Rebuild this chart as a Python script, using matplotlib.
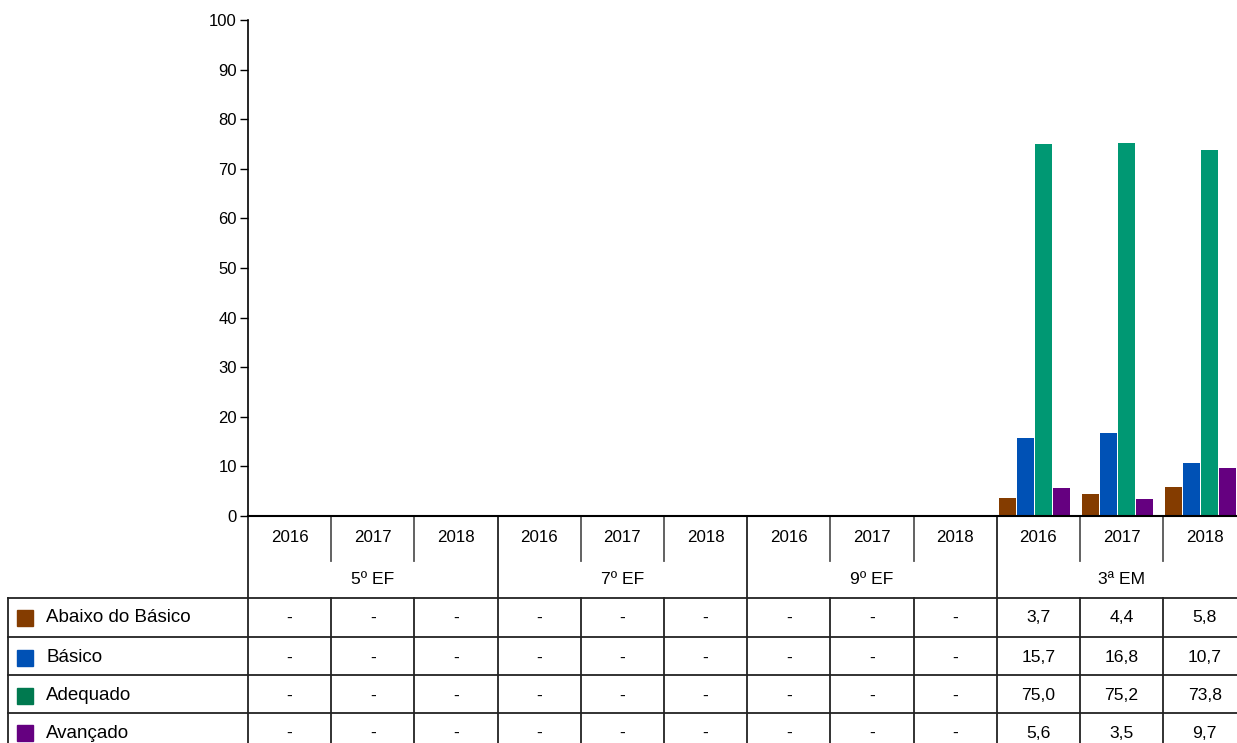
import numpy as np
import matplotlib
matplotlib.use("Agg")
import matplotlib.pyplot as plt

plt.rcParams['font.family'] = ['Liberation Sans', 'DejaVu Sans']

# data
grades = ['5º EF', '7º EF', '9º EF', '3ª EM']
years = ['2016', '2017', '2018']
levels = ['Abaixo do Básico', 'Básico', 'Adequado', 'Avançado']
abaixo = [None] * 9 + [3.7, 4.4, 5.8]
basico = [None] * 9 + [15.7, 16.8, 10.7]
adequado = [None] * 9 + [75.0, 75.2, 73.8]
avancado = [None] * 9 + [5.6, 3.5, 9.7]
series = [abaixo, basico, adequado, avancado]
colors = ['#843C00', '#0051B5', '#009873', '#650080']
legend_colors = ['#843C00', '#0051B5', '#00794F', '#650080']

W, H = 1237, 743
fig = plt.figure(figsize=(W / 100, H / 100), dpi=100)

ncat = len(grades) * len(years)
x0 = 248.0          # left of plot area in px
colw = 83.2         # px per category
ytop, ybot = 20.0, 516.0

ax = fig.add_axes([x0 / W, 1 - ybot / H, ncat * colw / W, (ybot - ytop) / H])
ax.set_xlim(-0.5, ncat - 0.5)
ax.set_ylim(0, 100)
ax.set_yticks(np.arange(0, 101, 10))
ax.tick_params(axis='y', length=6, width=1, labelsize=12, pad=2, colors='black')
ax.set_xticks([])
for s in ['top', 'right']:
    ax.spines[s].set_visible(False)
ax.spines['left'].set_linewidth(1.2)
ax.spines['bottom'].set_linewidth(1.5)

xs = np.arange(ncat)
step = 0.218
for k, (vals, c) in enumerate(zip(series, colors)):
    h = np.array([np.nan if v is None else v for v in vals])
    ax.bar(xs - 0.05 + (k - 1.5) * step, h, width=0.205, color=c, zorder=2)

# table overlay in pixel coordinates
tb = fig.add_axes([0, 0, 1, 1], zorder=-1)
tb.set_xlim(0, W)
tb.set_ylim(H, 0)
tb.axis('off')

edges = [x0 + i * colw for i in range(ncat + 1)]
y_years, y_grade, y_rows = 537, 579, [618, 658, 696, 733]
row_lines = [598, 637, 675, 713]
lc = '#222222'

for i, e in enumerate(edges):
    if i % 3 == 0:
        tb.plot([e, e], [ybot, H], color=lc, lw=1.3)
    else:
        tb.plot([e, e], [ybot, 561], color='#555555', lw=1.3)
        tb.plot([e, e], [598, H], color=lc, lw=1.3)
tb.plot([8, 8], [598, H], color=lc, lw=1.3)
for y in row_lines:
    tb.plot([8, W], [y, y], color=lc, lw=1.3)

for i in range(ncat):
    cx = (edges[i] + edges[i + 1]) / 2
    tb.text(cx, y_years, years[i % 3], ha='center', va='center', fontsize=12.2)
for g, name in enumerate(grades):
    cx = (edges[3 * g] + edges[3 * g + 3]) / 2
    tb.text(cx, y_grade, name, ha='center', va='center', fontsize=12.6)

for r, (name, vals) in enumerate(zip(levels, series)):
    yy = y_rows[r]
    tb.add_patch(plt.Rectangle((17, yy - 8), 16, 16, color=legend_colors[r]))
    tb.text(46, yy, name, ha='left', va='center', fontsize=13.5)
    for i, v in enumerate(vals):
        cx = (edges[i] + edges[i + 1]) / 2
        txt = '-' if v is None else f'{v:.1f}'.replace('.', ',')
        tb.text(cx, yy, txt, ha='center', va='center', fontsize=12.6)

fig.savefig('out.png', dpi=100)
